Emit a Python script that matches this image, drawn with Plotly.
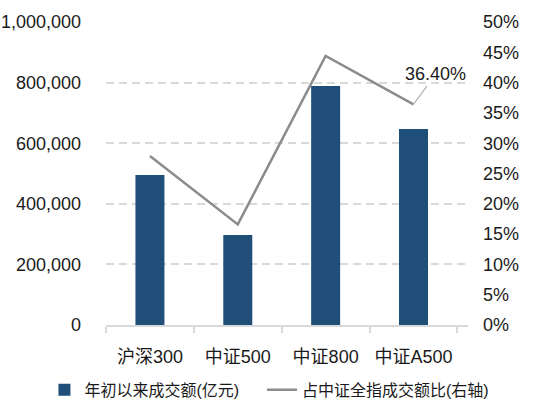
import plotly.graph_objects as go

# ── data ─────────────────────────────────────────────────────────────────────
categories = ["沪深300", "中证500", "中证800", "中证A500"]
turnover = [495000, 297000, 789000, 647000]        # 年初以来成交额(亿元)
share_of_all = [0.279, 0.166, 0.444, 0.364]         # 占中证全指成交额比(右轴)

BAR_NAME = "年初以来成交额(亿元)"
LINE_NAME = "占中证全指成交额比(右轴)"

FONT = "Liberation Sans, Arial, Noto Sans CJK SC, sans-serif"
TEXT = "#1a1a1a"
GRID = "#d9d9d9"

fig = go.Figure()

fig.add_trace(
    go.Bar(
        x=categories,
        y=turnover,
        name=BAR_NAME,
        marker=dict(color="#1F4E79", line=dict(width=0)),
        yaxis="y",
        legend="legend",
    )
)

fig.add_trace(
    go.Scatter(
        x=categories,
        y=share_of_all,
        name=LINE_NAME,
        mode="lines",
        line=dict(color="#8c8c8c", width=2.5),
        yaxis="y2",
        legend="legend2",
    )
)

# label on the last point
fig.add_annotation(
    x=categories[-1],
    y=share_of_all[-1],
    yref="y2",
    text=f"{share_of_all[-1] * 100:.2f}%",
    showarrow=True,
    arrowhead=0,
    arrowwidth=1.2,
    arrowcolor="#b3b3b3",
    ax=22,
    ay=-30,
    font=dict(size=18, color=TEXT, family=FONT),
)

# two one-item legends so the gap between them can match the reference
legend_style = dict(
    orientation="h",
    xanchor="left",
    y=-0.214,
    yanchor="middle",
    font=dict(size=16, family=FONT, color=TEXT),
    itemwidth=30,
    bgcolor="rgba(0,0,0,0)",
)

fig.update_layout(
    width=546,
    height=416,
    margin=dict(l=106, r=78, t=22, b=91, autoexpand=False),
    plot_bgcolor="white",
    paper_bgcolor="white",
    font=dict(family=FONT, size=18, color=TEXT),
    bargap=0.67,
    showlegend=True,
    legend=dict(x=-0.17, **legend_style),
    legend2=dict(x=0.431, **legend_style),
    xaxis=dict(
        type="category",
        showline=True,
        linecolor=GRID,
        linewidth=2,
        ticks="outside",
        tickson="boundaries",
        ticklen=6,
        tickcolor=GRID,
        tickwidth=2,
        showgrid=False,
        tickangle=0,
        ticklabelstandoff=14,
        tickfont=dict(size=18),
    ),
    yaxis=dict(
        range=[0, 1000000],
        dtick=200000,
        tickformat=",d",
        showgrid=True,
        gridcolor=GRID,
        griddash="8px,5px",
        gridwidth=1.5,
        zeroline=False,
        showline=False,
        ticklabelstandoff=24,
        tickfont=dict(size=18),
    ),
    yaxis2=dict(
        range=[0, 0.5],
        dtick=0.05,
        tickformat=".0%",
        overlaying="y",
        side="right",
        showgrid=False,
        zeroline=False,
        showline=False,
        ticklabelstandoff=14,
        tickfont=dict(size=18),
    ),
)

fig.write_html(
    "out.html",
    config={"displayModeBar": False},
    post_script="document.body.style.margin='0';",
)
